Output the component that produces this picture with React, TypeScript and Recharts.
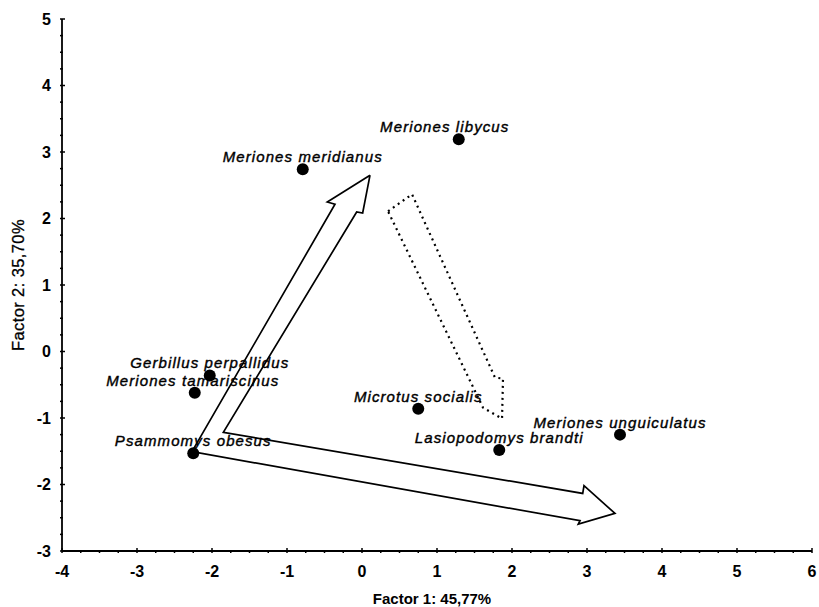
import { ScatterChart, Scatter, XAxis, YAxis, Label } from "recharts";

// species scores on the first two factors
const species = [
  "Meriones libycus",
  "Meriones meridianus",
  "Gerbillus perpallidus",
  "Meriones tamariscinus",
  "Psammomys obesus",
  "Microtus socialis",
  "Lasiopodomys brandti",
  "Meriones unguiculatus",
];
const factor1 = [1.29, -0.79, -2.03, -2.23, -2.25, 0.75, 1.83, 3.44];
const factor2 = [3.19, 2.74, -0.36, -0.62, -1.53, -0.86, -1.48, -1.25];

// outline of the bent double arrow (solid), in factor units, closed
const solidArrowX = [0.107, 0.009, -0.071, -1.849, 2.943, 2.96, 3.373, 2.884, 2.907, -2.267, -0.36, -0.463, 0.107];
const solidArrowY = [2.651, 2.083, 2.098, -1.215, -2.134, -2.018, -2.435, -2.595, -2.545, -1.506, 2.214, 2.249, 2.651];

// outline of the dotted arrow, closed
const dottedArrowX = [0.347, 0.667, 1.773, 1.88, 1.867, 1.613, 0.347];
const dottedArrowY = [2.108, 2.364, -0.392, -0.407, -1.009, -0.843, 2.108];

const xTickLabels = [-4, -3, -2, -1, 0, 1, 2, 3, 4, 5, 6];
const yTickLabels = [-3, -2, -1, 0, 1, 2, 3, 4, 5];

const points = species.map((name, i) => ({ name, x: factor1[i], y: factor2[i] }));
const solidArrow = solidArrowX.map((x, i) => ({ x, y: solidArrowY[i] }));
const dottedArrow = dottedArrowX.map((x, i) => ({ x, y: dottedArrowY[i] }));

// minor ticks every 0.25
const withMinor = (major: number[]) =>
  major.flatMap((v, i) => (i < major.length - 1 ? [v, v + 0.25, v + 0.5, v + 0.75] : [v]));
const xTicks = withMinor(xTickLabels);
const yTicks = withMinor(yTickLabels);

const FONT = "'Liberation Sans', Arial, sans-serif";

// a couple of labels sit a little off-centre in the original
const labelShift: Record<string, number> = { "Meriones libycus": -14, "Meriones tamariscinus": -2 };

function XTick(props: any) {
  const { x, y, payload } = props;
  const major = Number.isInteger(payload.value);
  return (
    <g>
      <line x1={x} x2={x} y1={y} y2={y - (major ? 5 : 3)} stroke="#000" strokeWidth={1.5} />
      {major && (
        <text x={x} y={y + 24} textAnchor="middle" fontFamily={FONT} fontWeight="bold" fontSize={16} fill="#000">
          {payload.value}
        </text>
      )}
    </g>
  );
}

function YTick(props: any) {
  const { x, y, payload } = props;
  const major = Number.isInteger(payload.value);
  return (
    <g>
      <line x1={x} x2={x + (major ? 5 : 3)} y1={y} y2={y} stroke="#000" strokeWidth={1.5} />
      {major && (
        <text x={x - 9} y={y} dy="0.36em" textAnchor="end" fontFamily={FONT} fontWeight="bold" fontSize={16} fill="#000">
          {payload.value}
        </text>
      )}
    </g>
  );
}

function SpeciesDot(props: any) {
  const { cx, cy, payload } = props;
  const dx = labelShift[payload.name] ?? 0;
  return (
    <g>
      <circle cx={cx} cy={cy} r={6} fill="#000" />
      {/* thin stroke to mimic the heavier scanned lettering */}
      <text
        x={cx + dx}
        y={cy - 7}
        textAnchor="middle"
        fontFamily={FONT}
        fontStyle="italic"
        fontSize={15}
        letterSpacing={1.1}
        fill="#000"
        stroke="#000"
        strokeWidth={0.4}
      >
        {payload.name}
      </text>
    </g>
  );
}

const noDot = () => <g />;

export default function App() {
  return (
    <div style={{ position: "absolute", left: 0, top: 0, width: 819, height: 607, background: "#fff" }}>
      <ScatterChart width={819} height={607} margin={{ top: 19, right: 7, bottom: 0, left: 0 }}>
        <XAxis
          type="number"
          dataKey="x"
          domain={[-4, 6]}
          ticks={xTicks}
          interval={0}
          height={56}
          tickSize={0}
          tickLine={false}
          axisLine={{ stroke: "#000", strokeWidth: 1.8 }}
          tick={<XTick />}
        >
          <Label
            value="Factor 1: 45,77%"
            position="insideBottom"
            offset={3}
            dx={-5}
            style={{ fontFamily: FONT, fontWeight: "bold", fontSize: 15, fill: "#000" }}
          />
        </XAxis>
        <YAxis
          type="number"
          dataKey="y"
          domain={[-3, 5]}
          ticks={yTicks}
          interval={0}
          width={62}
          tickSize={0}
          tickLine={false}
          axisLine={{ stroke: "#000", strokeWidth: 1.8 }}
          tick={<YTick />}
        >
          <Label
            content={(p: any) => {
              const vb = p.viewBox;
              const x = vb.x + 24;
              const y = vb.y + vb.height / 2;
              return (
                <text
                  x={x}
                  y={y}
                  transform={`rotate(-90 ${x} ${y})`}
                  textAnchor="middle"
                  fontFamily={FONT}
                  fontSize={16.5}
                  letterSpacing={0.4}
                  fill="#000"
                  stroke="#000"
                  strokeWidth={0.3}
                >
                  Factor 2: 35,70%
                </text>
              );
            }}
          />
        </YAxis>
        <Scatter
          data={solidArrow}
          shape={noDot}
          line={{ stroke: "#000", strokeWidth: 1.7 }}
          lineType="joint"
          isAnimationActive={false}
        />
        <Scatter
          data={dottedArrow}
          shape={noDot}
          line={{ stroke: "#000", strokeWidth: 2.2, strokeDasharray: "2 4" }}
          lineType="joint"
          isAnimationActive={false}
        />
        <Scatter data={points} shape={SpeciesDot} isAnimationActive={false} />
      </ScatterChart>
    </div>
  );
}
